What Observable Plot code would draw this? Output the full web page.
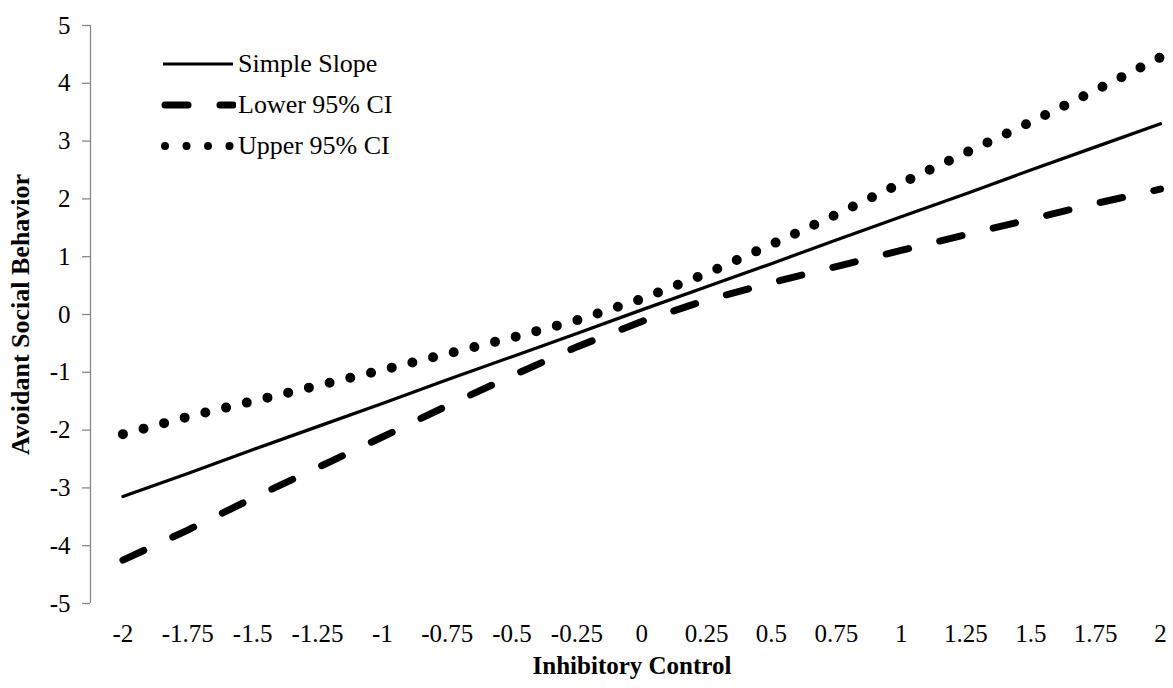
<!DOCTYPE html>
<html>
<head>
<meta charset="utf-8">
<script src="https://cdn.jsdelivr.net/npm/d3@7"></script>
<script src="https://cdn.jsdelivr.net/npm/@observablehq/plot@0.6"></script>
<style>
  html, body { margin: 0; padding: 0; background: #fff; }
  #wrap { position: relative; width: 1173px; height: 688px; font-family: 'Liberation Serif', serif; }
  #legend { position: absolute; left: 160px; top: 43px; font-size: 26px; color: #000; font-family: 'Liberation Serif', serif; }
  .item { display: flex; align-items: center; height: 41px; }
  .item svg { width: 76px; height: 14px; margin-right: 2px; }
  svg text { font-family: 'Liberation Serif', serif; }
</style>
</head>
<body>
<div id="wrap">
  <div id="chart"></div>
  <div id="legend"></div>
</div>
<script>
const inhibitoryControl = [-2, -1.75, -1.5, -1.25, -1, -0.75, -0.5, -0.25, 0, 0.25, 0.5, 0.75, 1, 1.25, 1.5, 1.75, 2];
const simpleSlope = [-3.15, -2.75, -2.34, -1.94, -1.54, -1.13, -0.73, -0.33, 0.08, 0.48, 0.88, 1.29, 1.69, 2.09, 2.50, 2.90, 3.30];
const lowerCI = [-4.25, -3.73, -3.18, -2.65, -2.12, -1.58, -1.06, -0.56, -0.12, 0.25, 0.55, 0.83, 1.11, 1.38, 1.65, 1.92, 2.17];
const upperCI = [-2.07, -1.77, -1.50, -1.23, -0.96, -0.68, -0.40, -0.10, 0.27, 0.71, 1.21, 1.73, 2.27, 2.80, 3.33, 3.88, 4.45];
const yTicks = [-5, -4, -3, -2, -1, 0, 1, 2, 3, 4, 5];
const seriesNames = ["Simple Slope", "Lower 95% CI", "Upper 95% CI"];

const styles = {
  "Simple Slope": {strokeWidth: 3.2, strokeDasharray: null, strokeLinecap: "round"},
  "Lower 95% CI": {strokeWidth: 7, strokeDasharray: "23,32", strokeLinecap: "round"},
  "Upper 95% CI": {strokeWidth: 10, strokeDasharray: "0,21.3", strokeLinecap: "round"}
};
const seriesValues = {"Simple Slope": simpleSlope, "Lower 95% CI": lowerCI, "Upper 95% CI": upperCI};
const tables = Object.fromEntries(seriesNames.map(n => [n, inhibitoryControl.map((x, i) => ({x, y: seriesValues[n][i]}))]));

const font = "'Liberation Serif', serif";
const chart = Plot.plot({
  width: 1173,
  height: 688,
  marginLeft: 90,
  marginRight: 0,
  marginTop: 25,
  marginBottom: 85,
  style: {fontFamily: font, fontSize: "25px", color: "#000", background: "#fff", overflow: "visible"},
  x: {domain: [-2.125, 2.05], axis: null},
  y: {domain: [-5, 5], axis: null},
  marks: [
    Plot.ruleX([-2.125], {y1: -5, y2: 5, stroke: "#888", strokeWidth: 1.3}),
    Plot.axisY({ticks: yTicks, tickSize: 8, tickPadding: 12, stroke: "#888", strokeWidth: 1.3, tickFormat: d => String(d), fontSize: 25, fill: "#000", label: null}),
    Plot.axisX({ticks: inhibitoryControl, tickSize: 0, tickPadding: 21, tickFormat: d => String(d), fontSize: 25, fill: "#000", label: null}),
    ...seriesNames.map(n => Plot.line(tables[n], {x: "x", y: "y", stroke: "#000", ...styles[n]})),
    Plot.text(["Avoidant Social Behavior"], {frameAnchor: "left", textAnchor: "middle", dx: -70, rotate: -90, fontWeight: "bold", fontSize: 26, fill: "#000"}),
    Plot.text(["Inhibitory Control"], {frameAnchor: "bottom", textAnchor: "middle", dy: 70, fontWeight: "bold", fontSize: 25, fill: "#000"})
  ]
});
document.getElementById("chart").appendChild(chart);

const legend = document.getElementById("legend");
for (const n of seriesNames) {
  const item = document.createElement("div");
  item.className = "item";
  let line;
  if (n === "Simple Slope") line = `<line x1="3" y1="7" x2="73" y2="7" stroke="#000" stroke-width="3"/>`;
  else if (n === "Lower 95% CI") line = `<line x1="5" y1="7" x2="73" y2="7" stroke="#000" stroke-width="7" stroke-linecap="round" stroke-dasharray="23,32"/>`;
  else line = `<line x1="5" y1="7" x2="74" y2="7" stroke="#000" stroke-width="8" stroke-linecap="round" stroke-dasharray="0,21.5"/>`;
  item.innerHTML = `<svg viewBox="0 0 76 14">${line}</svg><span>${n}</span>`;
  legend.appendChild(item);
}
</script>
</body>
</html>
